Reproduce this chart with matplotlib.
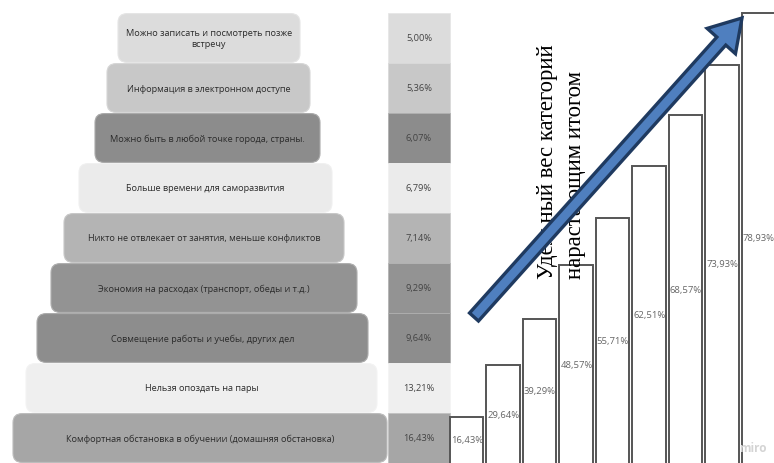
import numpy as np
import matplotlib
matplotlib.use("Agg")
import matplotlib.pyplot as plt
from matplotlib.patches import FancyBboxPatch, Rectangle, FancyArrow
from matplotlib.colors import to_rgb
from matplotlib.transforms import blended_transform_factory

# --- data -------------------------------------------------------------
categories = [
    "Можно записать и посмотреть позже\nвстречу",
    "Информация в электронном доступе",
    "Можно быть в любой точке города, страны.",
    "Больше времени для саморазвития",
    "Никто не отвлекает от занятия, меньше конфликтов",
    "Экономия на расходах (транспорт, обеды и т.д.)",
    "Совмещение работы и учебы, других дел",
    "Нельзя опоздать на пары",
    "Комфортная обстановка в обучении (домашняя обстановка)",
]
shares = [5.00, 5.36, 6.07, 6.79, 7.14, 9.29, 9.64, 13.21, 16.43]
cumulative = [16.43, 29.64, 39.29, 48.57, 55.71, 62.51, 68.57, 73.93, 78.93]
title_lines = ["Удельный вес категорий", "нарастающим итогом"]

# --- styling ----------------------------------------------------------
row_colors = ["#dcdcdc", "#c8c8c8", "#8c8c8c", "#ebebeb", "#b4b4b4",
              "#939393", "#8d8d8d", "#efefef", "#a6a6a6"]
box_left = [118, 107, 95, 79, 64, 51, 37, 26, 13]
box_right = [300, 310, 320, 332, 344, 357, 368, 377, 387]
row_top0, row_h = 14, 50
text_font = ["Open Sans", "DejaVu Sans"]


def lighter(c, f):
    r, g, b = to_rgb(c)
    return (r + (1 - r) * f, g + (1 - g) * f, b + (1 - b) * f)


def pct(v):
    return f"{v:.2f}".replace(".", ",") + "%"


fig = plt.figure(figsize=(7.74, 4.64), dpi=100)

# pixel-space canvas for the pyramid and the share column
base = fig.add_axes([0, 0, 1, 1], zorder=0)
base.set_xlim(0, 774)
base.set_ylim(464, 0)
base.axis("off")

for i, (lab, sh, col) in enumerate(zip(categories, shares, row_colors)):
    top = row_top0 + i * row_h
    box = FancyBboxPatch((box_left[i], top + 0.6), box_right[i] - box_left[i], row_h - 1.2,
                         boxstyle="round,pad=0,rounding_size=9",
                         fc=col, ec=lighter(col, 0.25), lw=0.8)
    base.add_patch(box)
    base.text((box_left[i] + box_right[i]) / 2, top + row_h / 2, lab,
              ha="center", va="center", fontsize=6.6, color="#2b2b2b",
              family=text_font, linespacing=1.35)
    base.add_patch(Rectangle((388, top), 62, row_h, fc=col,
                             ec=lighter(col, 0.3), lw=0.6))
    base.text(419, top + row_h / 2, pct(sh), ha="center", va="center",
              fontsize=6.7, color="#444444", family=text_font)

# cumulative bars
bx_left_px, bx_right_px = 448, 774
axb = fig.add_axes([bx_left_px / 774, 0, (bx_right_px - bx_left_px) / 774, 1], zorder=1)
axb.patch.set_alpha(0)
s = 55.0
axb.set_yscale("function", functions=(lambda v: np.exp(np.asarray(v) / s),
                                      lambda u: s * np.log(np.clip(u, 1e-9, None))))
pitch = 36.5
axb.set_xlim((bx_left_px - 466.5) / pitch, (bx_right_px - 466.5) / pitch)
axb.set_ylim(1.25, 80.2)
axb.axis("off")
xs = np.arange(len(cumulative))
axb.bar(xs, cumulative, width=0.92, bottom=0, color="white",
        edgecolor="#555555", linewidth=1.4)

to_axes = axb.transScale + axb.transLimits
trans = blended_transform_factory(axb.transData, axb.transAxes)
for x, v in zip(xs, cumulative):
    y_top = to_axes.transform((x, v))[1]
    axb.text(x - 0.43, y_top / 2, pct(v), transform=trans, ha="left", va="center",
             fontsize=6.8, color="#666666", family=text_font)

# overlay: rotated caption and arrow
top_ax = fig.add_axes([0, 0, 1, 1], zorder=2)
top_ax.set_xlim(0, 774)
top_ax.set_ylim(464, 0)
top_ax.patch.set_alpha(0)
top_ax.axis("off")

for xc, line in zip([547, 575], title_lines):
    top_ax.text(xc, 279, line, rotation=90, ha="center", va="bottom",
                fontsize=16.4, family=["Liberation Serif", "DejaVu Serif"],
                color="black", zorder=1)

tail = (474, 318)
tip = (742, 19)
arrow = FancyArrow(tail[0], tail[1], tip[0] - tail[0], tip[1] - tail[1],
                   width=12, head_width=38, head_length=31,
                   length_includes_head=True, fc="#4f7fbf", ec="#1f3a60",
                   lw=2.4, zorder=3)
top_ax.add_patch(arrow)

top_ax.text(753, 449, "miro", ha="center", va="center", fontsize=8.5,
            color="#d4d4d4", fontweight="bold", family=text_font)

fig.savefig("out.png", dpi=100)
